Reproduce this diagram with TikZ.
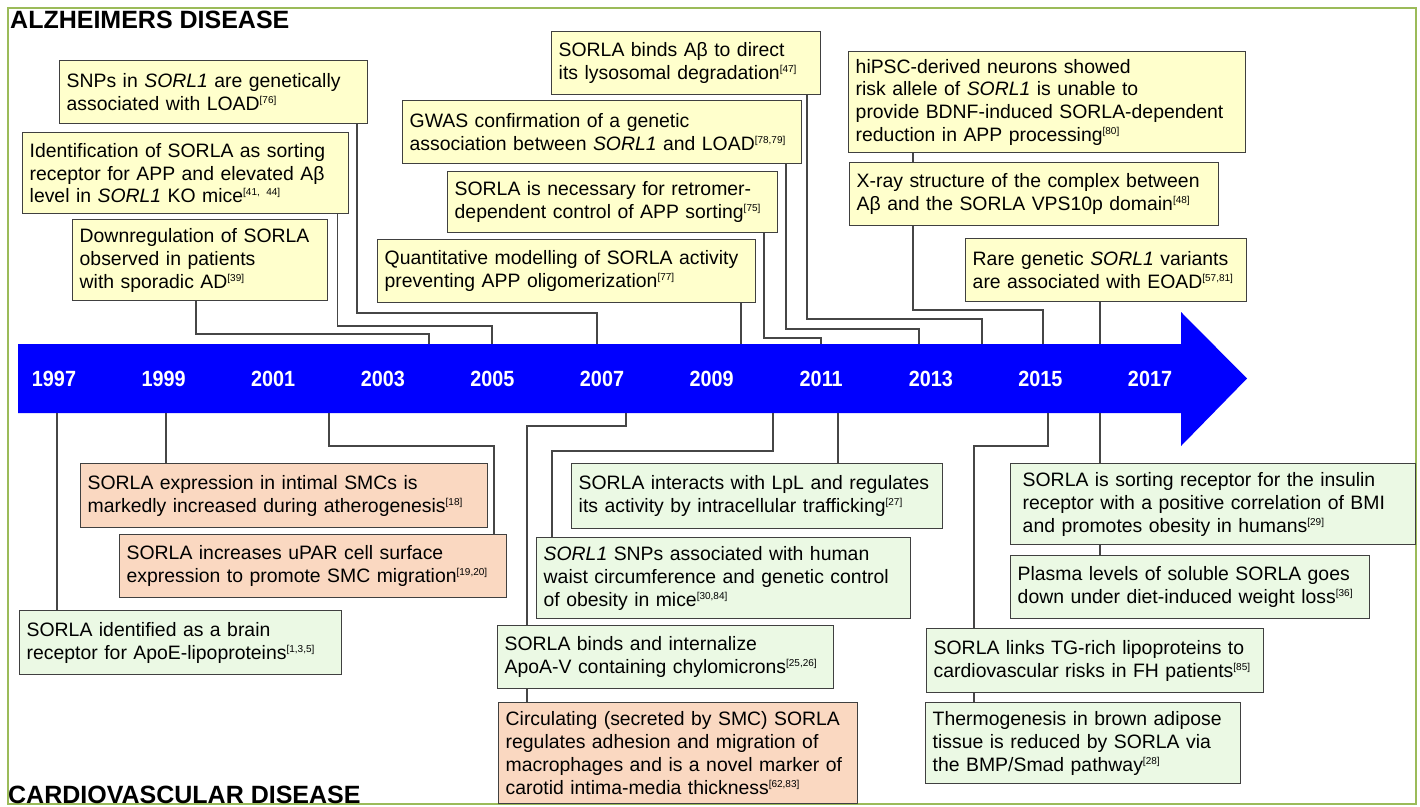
\documentclass[tikz,border=0pt]{standalone}
\usepackage{fontspec}
\setmainfont{Liberation Sans}
\usepackage{graphicx}
\usetikzlibrary{calc}
\definecolor{adfill}{RGB}{255,255,204}
\definecolor{cvfill}{RGB}{235,249,228}
\definecolor{smfill}{RGB}{250,216,193}
\definecolor{boxline}{RGB}{64,64,64}
\definecolor{linkgray}{RGB}{70,70,70}
\definecolor{framegreen}{RGB}{155,187,89}
\definecolor{barblue}{RGB}{0,0,255}
\newcommand{\sref}[1]{\raisebox{7pt}{\fontsize{10}{10}\selectfont[#1]}}
\newcommand{\gene}{\textit{SORL1}}

\begin{document}
\begin{tikzpicture}[x=1pt, y=-1pt,
    evt/.style={draw=boxline, line width=1.4pt, anchor=north west, align=left,
        inner xsep=7pt, inner ysep=0pt, font=\fontsize{19.4}{22.8}\selectfont},
    ad/.style={evt, fill=adfill},
    cv/.style={evt, fill=cvfill},
    sm/.style={evt, fill=smfill},
    two/.style={minimum height=63pt},
    three/.style={minimum height=81pt},
    four/.style={minimum height=101pt},
    link/.style={draw=linkgray, line width=1.3pt},
    yearlbl/.style={text=white, font=\fontsize{22}{22}\selectfont\bfseries},
    sectitle/.style={font=\fontsize{25}{25}\selectfont\bfseries, anchor=base west, inner sep=0pt}]

    \useasboundingbox (0,0) rectangle (1420,806);
    \draw[framegreen, line width=2pt] (7.5,7.5) rectangle (1415.5,804);

    % ---------------- Time arrow ----------------
    \node[inner sep=0pt, outer sep=0pt, anchor=north west,
        minimum width=1163pt, minimum height=69pt] (bar) at (18,344) {};
    \fill[barblue] (bar.north west) -- (bar.north east) -- ++(0,-32)
        -- ($(bar.east)+(66,0)$) -- ($(bar.south east)+(0,33)$)
        -- (bar.south east) -- (bar.south west) -- cycle;
    \foreach \yr [count=\i from 0] in {1997,1999,...,2017} {
        \node[yearlbl] (y\yr) at (54+109.6*\i,379) {\scalebox{0.9}[1]{\yr}};
    }

    % ---------------- Alzheimer events ----------------
    \node[ad, two, text width=294pt] (snps) at (59,60)
        {SNPs in \gene{} are genetically\\associated with LOAD\sref{76}};
    \node[ad, three, text width=312pt] (ident) at (22,132)
        {Identification of SORLA as sorting\\receptor for APP and elevated Aβ\\level in \gene{} KO mice\sref{41, 44}};
    \node[ad, three, text width=241pt] (downreg) at (72,219)
        {Downregulation of SORLA\\observed in patients\\with sporadic AD\sref{39}};
    \node[ad, two, text width=255pt] (binds) at (551,31)
        {SORLA binds Aβ to direct\\its lysosomal degradation\sref{47}};
    \node[ad, two, text width=385pt] (gwas) at (402,100)
        {GWAS confirmation of a genetic\\association between \gene{} and LOAD\sref{78,79}};
    \node[ad, two, text width=316pt, minimum height=61pt] (necessary) at (447,171)
        {SORLA is necessary for retromer-\\dependent control of APP sorting\sref{75}};
    \node[ad, two, text width=364pt] (quant) at (377,239)
        {Quantitative modelling of SORLA activity\\preventing APP oligomerization\sref{77}};
    \node[ad, four, text width=383pt] (hipsc) at (848,51)
        {hiPSC-derived neurons showed\\risk allele of \gene{} is unable to\\provide BDNF-induced SORLA-dependent\\reduction in APP processing\sref{80}};
    \node[ad, two, text width=355pt] (xray) at (849,162)
        {X-ray structure of the complex between\\Aβ and the SORLA VPS10p domain\sref{48}};
    \node[ad, two, text width=267pt] (rare) at (965,238)
        {Rare genetic \gene{} variants\\are associated with EOAD\sref{57,81}};

    % ---------------- Cardiovascular events ----------------
    \node[sm, two, text width=393pt, minimum height=64pt] (smc) at (80,463)
        {SORLA expression in intimal SMCs is\\markedly increased during atherogenesis\sref{18}};
    \node[sm, two, text width=373pt] (upar) at (119,534)
        {SORLA increases uPAR cell surface\\expression to promote SMC migration\sref{19,20}};
    \node[cv, two, text width=308pt, minimum height=64pt] (apoe) at (19,610)
        {SORLA identified as a brain\\receptor for ApoE-lipoproteins\sref{1,3,5}};
    \node[cv, two, text width=357pt, minimum height=65pt] (lpl) at (571,463)
        {SORLA interacts with LpL and regulates\\its activity by intracellular trafficking\sref{27}};
    \node[cv, three, text width=360pt] (sorl1) at (536,537)
        {\gene{} SNPs associated with human\\waist circumference and genetic control\\of obesity in mice\sref{30,84}};
    \node[cv, two, text width=322pt] (apoa) at (497,625)
        {SORLA binds and internalize\\ApoA-V containing chylomicrons\sref{25,26}};
    \node[sm, four, text width=345pt] (circ) at (498,702)
        {Circulating (secreted by SMC) SORLA\\regulates adhesion and migration of\\macrophages and is a novel marker of\\carotid intima-media thickness\sref{62,83}};
    \node[cv, three, inner xsep=12pt, text width=381pt] (insulin) at (1010,463)
        {SORLA is sorting receptor for the insulin\\receptor with a positive correlation of BMI\\and promotes obesity in humans\sref{29}};
    \node[cv, two, text width=345pt] (plasma) at (1010,555)
        {Plasma levels of soluble SORLA goes\\down under diet-induced weight loss\sref{36}};
    \node[cv, two, text width=323pt, minimum height=64pt] (tg) at (926,628)
        {SORLA links TG-rich lipoproteins to\\cardiovascular risks in FH patients\sref{85}};
    \node[cv, three, text width=301pt] (thermo) at (925,702)
        {Thermogenesis in brown adipose\\tissue is reduced by SORLA via\\the BMP/Smad pathway\sref{28}};

    % ---------------- Connectors above the arrow ----------------
    \foreach \bx/\dx/\hy/\tx in {downreg/124/334/429, ident/315.5/326/492, snps/298/313/597,
            necessary/317/338/821, gwas/384/329/919, binds/256/319/982, xray/64/310/1043}
        \draw[link] ($(\bx.south west)+(\dx,0)$) |- (\tx,\hy) -- (\tx,0 |- bar.north);
    \foreach \bx/\tx in {quant/741, rare/1100}
        \draw[link] (\bx.south -| \tx,0) -- (\tx,0 |- bar.north);

    % ---------------- Connectors below the arrow ----------------
    \foreach \bx/\tx in {apoe/57, smc/166, lpl/838, insulin/1100}
        \draw[link] (\tx,0 |- bar.south) -- (\bx.north -| \tx,0);
    \foreach \bx/\tx/\hy/\ex in {upar/329/446/494, apoa/626/426/527, sorl1/773/451/552, tg/1048/446/974}
        \draw[link] (\tx,0 |- bar.south) |- (\ex,\hy) -- (\bx.north -| \ex,0);

    % ---------------- Box to box ----------------
    \foreach \ba/\bb/\ex in {hipsc/xray/913, apoa/circ/527, tg/thermo/974, insulin/plasma/1100}
        \draw[link] (\ba.south -| \ex,0) -- (\bb.north -| \ex,0);

    % ---------------- Section titles ----------------
    \node[sectitle] (adtitle) at (10,28) {ALZHEIMERS DISEASE};
    \node[sectitle] (cvtitle) at (8,803) {CARDIOVASCULAR DISEASE};

\end{tikzpicture}
\end{document}
